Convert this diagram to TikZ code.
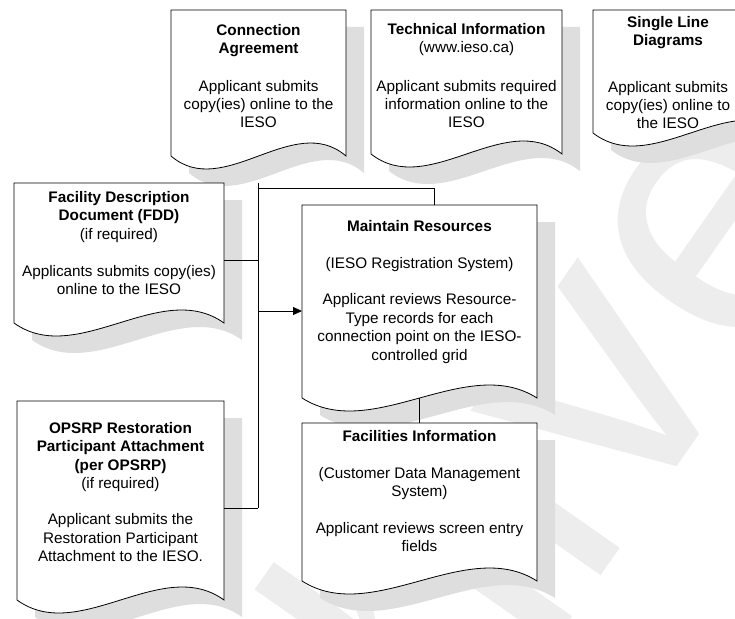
\documentclass[tikz,border=0pt]{standalone}
\usepackage{fontspec}
\setmainfont{Liberation Sans}
\usetikzlibrary{arrows.meta,calc}
\tikzset{
  shadowc/.style={fill=black!13, draw=none},
  boxline/.style={draw=black, line width=0.8pt, fill=white},
  boxtext/.style={anchor=north, inner sep=0pt, align=center, font=\fontsize{15.3}{18.4}\selectfont},
  conn/.style={draw=black, line width=0.8pt},
  framebox/.style={inner sep=0pt, outer sep=0pt, draw=none, anchor=north west},
  wmark/.style={text=black!7, inner sep=0pt, font=\fontsize{380}{380}\selectfont}
}
% shadow of a document shape
\newcommand\docshadow[4]{%
  \fill[shadowc, shift={(18,17)}] (#1,#2) -- (#3,#2) -- (#3,#4)
    .. controls ({#1+0.7*(#3-#1)},{#4-45}) and ({#1+0.3*(#3-#1)},{#4+45}) .. (#1,#4) -- cycle;}
% outline of a document shape plus an invisible named frame
\newcommand\docbox[5]{%
  \draw[boxline] (#2,#3) -- (#4,#3) -- (#4,#5)
    .. controls ({#2+0.7*(#4-#2)},{#5-45}) and ({#2+0.3*(#4-#2)},{#5+45}) .. (#2,#5) -- cycle;
  \node[framebox, minimum width={(#4-#2)*1pt}, minimum height={(#5-#3)*1pt}] (#1) at (#2,#3) {};}
\begin{document}
\begin{tikzpicture}[x=1pt, y=-1pt]
\useasboundingbox (0,0) rectangle (735,618);
\fill[white] (0,0) rectangle (735,618);
% watermark
\node[wmark, rotate=55, anchor=base west] (wm) at (138,1237) {Archive};
% shadows
\docshadow{171}{10}{346}{156}
\docshadow{371}{10}{562}{154}
\docshadow{593}{10}{788}{133}
\docshadow{14}{183}{224}{323}
\docshadow{17}{401}{224}{600}
\docshadow{302}{205}{537}{398}
\docshadow{302}{423}{537}{581}
% boxes
\docbox{ca}{171}{10}{346}{156}
\docbox{ti}{371}{10}{562}{154}
\docbox{sld}{593}{10}{788}{133}
\docbox{fdd}{14}{183}{224}{323}
\docbox{op}{17}{401}{224}{600}
\docbox{mr}{302}{205}{537}{398}
\docbox{fi}{302}{423}{537}{581}
% texts
\node[boxtext] (ca-t) at (258.5,24) {\textbf{Connection}\\\textbf{Agreement}\\[19pt]Applicant submits\\copy(ies) online to the\\IESO};
\node[boxtext] (ti-t) at (466.5,23) {\textbf{Technical Information}\\(www.ieso.ca)\\[20pt]Applicant submits required\\information online to the\\IESO};
\node[boxtext] (sld-t) at (668,16) {\textbf{Single Line}\\\textbf{Diagrams}\\[28pt]Applicant submits\\copy(ies) online to\\the IESO};
\node[boxtext] (fdd-t) at (119,191) {\textbf{Facility Description}\\\textbf{Document (FDD)}\\(if required)\\[19pt]Applicants submits copy(ies)\\online to the IESO};
\node[boxtext] (op-t) at (120.5,422) {\textbf{OPSRP Restoration}\\\textbf{Participant Attachment}\\\textbf{(per OPSRP)}\\(if required)\\[18pt]Applicant submits the\\Restoration Participant\\Attachment to the IESO.};
\node[boxtext] (mr-t) at (419.5,220) {\textbf{Maintain Resources}\\[18.4pt](IESO Registration System)\\[18.4pt]Applicant reviews Resource-\\Type records for each\\connection point on the IESO-\\controlled grid};
\node[boxtext] (fi-t) at (419.5,430) {\textbf{Facilities Information}\\[18.4pt](Customer Data Management\\System)\\[18.4pt]Applicant reviews screen entry\\fields};
% connectors
\coordinate (bustop) at (258,183);
\coordinate (busbot) at (258,508);
\coordinate (hj) at (258,188);
\coordinate (hk) at (434,188);
\coordinate (j1) at (258,260);
\coordinate (j3) at (258,311);
\draw[conn] (bustop) -- (busbot);
\draw[conn] (hj) -- (hk) -- (hk |- mr.north);
\draw[conn] (j1 -| fdd.east) -- (j1);
\draw[conn] (busbot -| op.east) -- (busbot);
\draw[conn, -{Triangle[length=9pt,width=8pt]}] (j3) -- (j3 -| mr.west);
\draw[conn] (mr.south) -- (fi.north);
\end{tikzpicture}
\end{document}
